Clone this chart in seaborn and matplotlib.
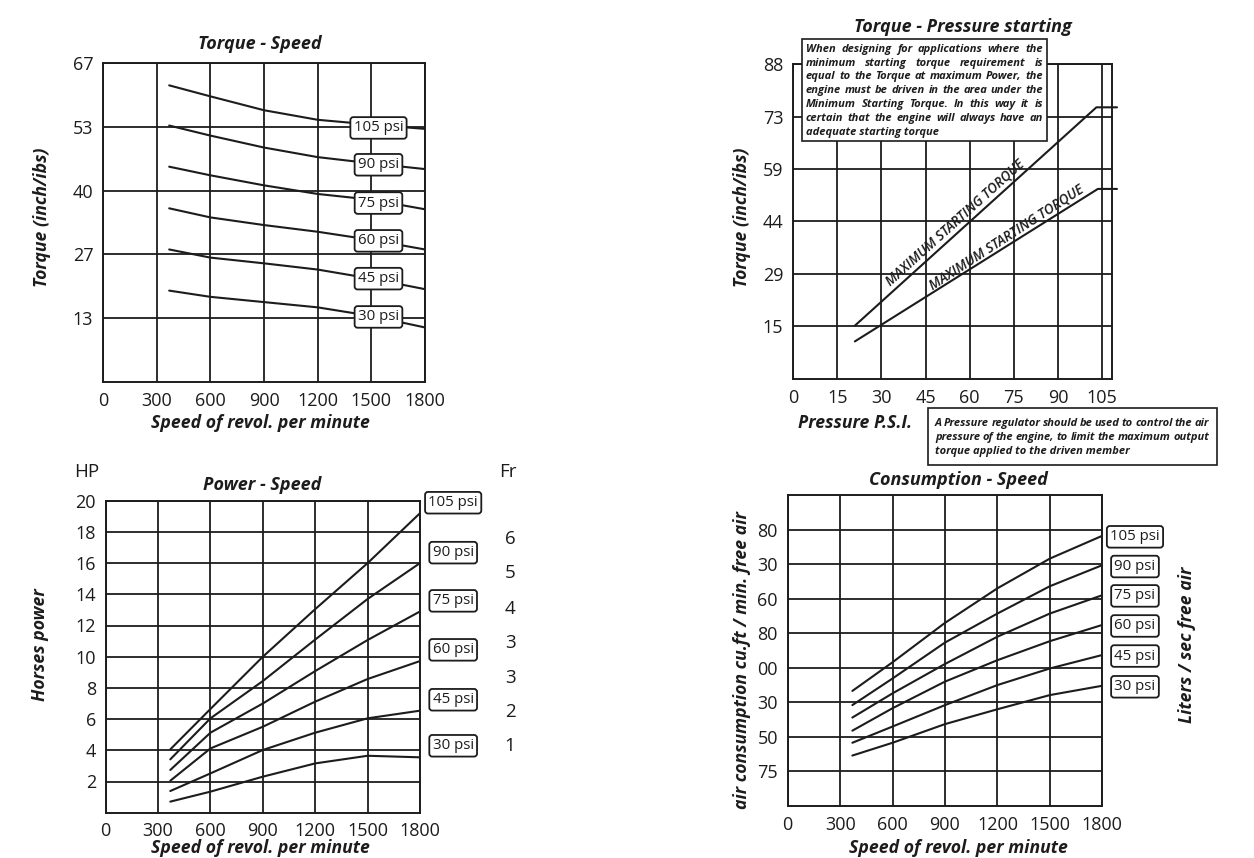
import numpy as np
import pandas as pd
import seaborn as sns
import matplotlib.pyplot as plt
from matplotlib.patches import Rectangle

sns.set_style("white")
plt.rcParams['font.family'] = ['Open Sans', 'DejaVu Sans']

W, H = 1254, 858
INK = '#1c1c1c'

# ---- data ----
psi = ['105 psi', '90 psi', '75 psi', '60 psi', '45 psi', '30 psi']
rpm = [370, 600, 900, 1200, 1500, 1800]

# torque - speed (inch/lbs)
torque_speed = [
    [62.0, 59.7, 56.8, 54.8, 53.8, 52.9],
    [53.6, 51.5, 49.0, 47.0, 45.7, 44.5],
    [45.0, 43.2, 41.1, 39.3, 38.1, 36.1],
    [36.3, 34.4, 32.8, 31.4, 29.7, 27.7],
    [27.7, 26.0, 24.8, 23.5, 21.6, 19.4],
    [19.1, 17.8, 16.7, 15.6, 13.8, 11.4],
]
torque_label_y = [53.1, 45.4, 37.4, 29.5, 21.6, 13.6]
torque_yticks = ['13', '27', '40', '53', '67']

# torque - pressure starting
press_upper = [21, 103, 110]
torque_upper = [14.9, 75.9, 75.9]
press_lower = [21, 103.5, 110]
torque_lower = [10.5, 53.1, 53.1]
press_yticks = ['15', '29', '44', '59', '73', '88']

# power - speed (HP)
power_speed = [
    [4.06, 6.65, 10.0, 13.05, 16.0, 19.2],
    [3.42, 6.05, 8.44, 11.1, 13.7, 16.0],
    [2.74, 5.13, 7.0, 9.08, 11.07, 12.9],
    [2.05, 4.12, 5.51, 7.12, 8.57, 9.72],
    [1.39, 2.52, 4.02, 5.13, 6.05, 6.54],
    [0.71, 1.35, 2.31, 3.16, 3.65, 3.55],
]
power_label_y = [19.87, 16.67, 13.58, 10.44, 7.24, 4.29]
fr_values = ['6', '5', '4', '3', '3', '2', '1']

# consumption - speed (grid units)
cons_speed = [
    [3.33, 4.16, 5.30, 6.30, 7.16, 7.82],
    [2.92, 3.69, 4.73, 5.57, 6.36, 6.97],
    [2.56, 3.26, 4.11, 4.90, 5.57, 6.10],
    [2.18, 2.83, 3.60, 4.22, 4.77, 5.24],
    [1.83, 2.30, 2.92, 3.50, 3.98, 4.37],
    [1.46, 1.83, 2.37, 2.80, 3.21, 3.48],
]
cons_label_y = [7.79, 6.93, 6.08, 5.21, 4.34, 3.45]
cons_yticks = ['75', '50', '30', '00', '80', '60', '30', '80']

speed_ticks = [0, 300, 600, 900, 1200, 1500, 1800]

fig = plt.figure(figsize=(W / 100, H / 100), dpi=100)
fig.patch.set_facecolor('white')

BI = dict(fontweight='bold', style='italic', color=INK)
TITLE = 13
LAB = 12.7


def panel(l, t, r, b):
    return fig.add_axes([l / W, 1 - b / H, (r - l) / W, (b - t) / H])


def style(ax, xlim, ylim, xticks, yticks, ylabels):
    ax.set_xlim(*xlim)
    ax.set_ylim(*ylim)
    ax.set_xticks(xticks, [str(v) for v in xticks])
    ax.set_yticks(yticks, ylabels)
    ax.grid(True, color=INK, lw=1.3)
    ax.set_axisbelow(True)
    for s in ax.spines.values():
        s.set_color(INK)
        s.set_linewidth(1.4)
    ax.tick_params(direction='out', length=4, width=1.2, color=INK,
                   labelsize=13, labelcolor=INK, pad=3)
    ax.set_xlabel('')
    ax.set_ylabel('')


def curves(ax, series):
    rows = [(x, v, n) for n, ys in zip(psi, series) for x, v in zip(rpm, ys)]
    df = pd.DataFrame(rows, columns=['rpm', 'val', 'psi'])
    sns.lineplot(data=df, x='rpm', y='val', hue='psi', palette=[INK] * len(psi),
                 legend=False, ax=ax, lw=1.5, zorder=3)


def tag(ax, x, y, s):
    ax.text(x, y, s, ha='center', va='center', fontsize=10.8, color=INK, zorder=6,
            clip_on=False,
            bbox=dict(boxstyle='round,pad=0.22,rounding_size=0.2', fc='white',
                      ec=INK, lw=1.3))


def ftext(x, y, s, **kw):
    return fig.text(x / W, 1 - y / H, s, **kw)


def justified(lines, x0, x1, y0, step, size):
    r = fig.canvas.get_renderer()
    for i, line in enumerate(lines):
        y = y0 + i * step
        words = line.split()
        if i == len(lines) - 1:
            ftext(x0, y, line, fontsize=size, va='center', zorder=7, **BI)
            continue
        ts = [ftext(x0, y, w, fontsize=size, va='center', zorder=7, **BI) for w in words]
        ws = [t.get_window_extent(r).width for t in ts]
        gap = (x1 - x0 - sum(ws)) / (len(words) - 1)
        x = x0
        for t, w in zip(ts, ws):
            t.set_x(x / W)
            x += w + gap


# ---- Torque - Speed ----
ax1 = panel(103, 63, 425, 382)
curves(ax1, torque_speed)
style(ax1, (0, 1800), (0, 66.67), speed_ticks,
      [13.33, 26.67, 40, 53.33, 66.67], torque_yticks)
for s, y in zip(psi, torque_label_y):
    tag(ax1, 1540, y, s)
ftext(260, 44, 'Torque - Speed', fontsize=TITLE, ha='center', va='center', **BI)
ftext(260, 423, 'Speed of revol. per minute', fontsize=LAB, ha='center', va='center', **BI)
ftext(42, 217, 'Torque (inch/ibs)', fontsize=LAB, ha='center', va='center', rotation=90, **BI)

# ---- Torque - Pressure starting ----
ax2 = panel(793, 64, 1112, 379)
pdf = pd.DataFrame({'p': press_upper + press_lower,
                    't': torque_upper + torque_lower,
                    'k': ['max'] * 3 + ['min'] * 3})
sns.lineplot(data=pdf, x='p', y='t', hue='k', palette=[INK, INK], legend=False,
             ax=ax2, lw=1.5, sort=False, clip_on=False, zorder=3)
style(ax2, (0, 108.3), (0, 88), [0, 15, 30, 45, 60, 75, 90, 105],
      [14.67, 29.33, 44, 58.67, 73.33, 88], press_yticks)
ax2.text(55.0, 43.6, 'MAXIMUM STARTING TORQUE', rotation=42, ha='center', va='center',
         fontsize=9.8, fontweight='semibold', style='italic', color=INK,
         rotation_mode='anchor')
ax2.text(72.5, 39.7, 'MAXIMUM STARTING TORQUE', rotation=33, ha='center', va='center',
         fontsize=9.8, fontweight='semibold', style='italic', color=INK,
         rotation_mode='anchor')
ftext(963, 27, 'Torque - Pressure starting', fontsize=TITLE, ha='center', va='center', **BI)
ftext(855, 423, 'Pressure P.S.I.', fontsize=LAB, ha='center', va='center', **BI)
ftext(742, 217, 'Torque (inch/ibs)', fontsize=LAB, ha='center', va='center', rotation=90, **BI)

fig.add_artist(Rectangle((802 / W, 1 - 141 / H), 245 / W, 102 / H, transform=fig.transFigure,
                         fc='white', ec=INK, lw=1.2, zorder=5))
justified(['When designing for applications where the',
           'minimum starting torque requirement is',
           'equal to the Torque at maximum Power, the',
           'engine must be driven in the area under the',
           'Minimum Starting Torque. In this way it is',
           'certain that the engine will always have an',
           'adequate starting torque'], 806, 1043, 49.3, 13.8, 8.0)

fig.add_artist(Rectangle((928 / W, 1 - 465 / H), 289 / W, 57 / H, transform=fig.transFigure,
                         fc='white', ec=INK, lw=1.2, zorder=5))
justified(['A Pressure regulator should be used to control the air',
           'pressure of the engine, to limit the maximum output',
           'torque applied to the driven member'], 935, 1209, 423.3, 14, 8.0)

# ---- Power - Speed ----
ax3 = panel(105.7, 500.7, 420, 812.7)
curves(ax3, power_speed)
style(ax3, (0, 1800), (0, 20), speed_ticks, list(range(2, 21, 2)),
      [str(v) for v in range(2, 21, 2)])
for s, y in zip(psi, power_label_y):
    tag(ax3, 1990, y, s)
ftext(262, 485, 'Power - Speed', fontsize=TITLE, ha='center', va='center', **BI)
ftext(260, 848, 'Speed of revol. per minute', fontsize=LAB, ha='center', va='center', **BI)
ftext(40, 645, 'Horses power', fontsize=LAB, ha='center', va='center', rotation=90, **BI)
ftext(87, 472, 'HP', fontsize=13.5, ha='center', va='center', color=INK)
ftext(508, 472, 'Fr', fontsize=13.5, ha='center', va='center', color=INK)
for v, y in zip(fr_values, [539, 573, 609, 643, 678, 712, 746]):
    ftext(510, y, v, fontsize=13.5, ha='center', va='center', color=INK)

# ---- Consumption - Speed ----
ax4 = panel(787.7, 495, 1102.3, 806)
curves(ax4, cons_speed)
style(ax4, (0, 1800), (0, 9), speed_ticks, list(range(1, 9)), cons_yticks)
for s, y in zip(psi, cons_label_y):
    tag(ax4, 1987, y, s)
ftext(958, 480, 'Consumption - Speed', fontsize=TITLE, ha='center', va='center', **BI)
ftext(958, 848, 'Speed of revol. per minute', fontsize=LAB, ha='center', va='center', **BI)
ftext(742, 660, 'air consumption cu.ft / min. free air', fontsize=LAB, ha='center',
      va='center', rotation=90, **BI)
ftext(1187, 645, 'Liters / sec free air', fontsize=LAB, ha='center', va='center',
      rotation=90, **BI)

fig.savefig('out.png', dpi=100, facecolor='white')
